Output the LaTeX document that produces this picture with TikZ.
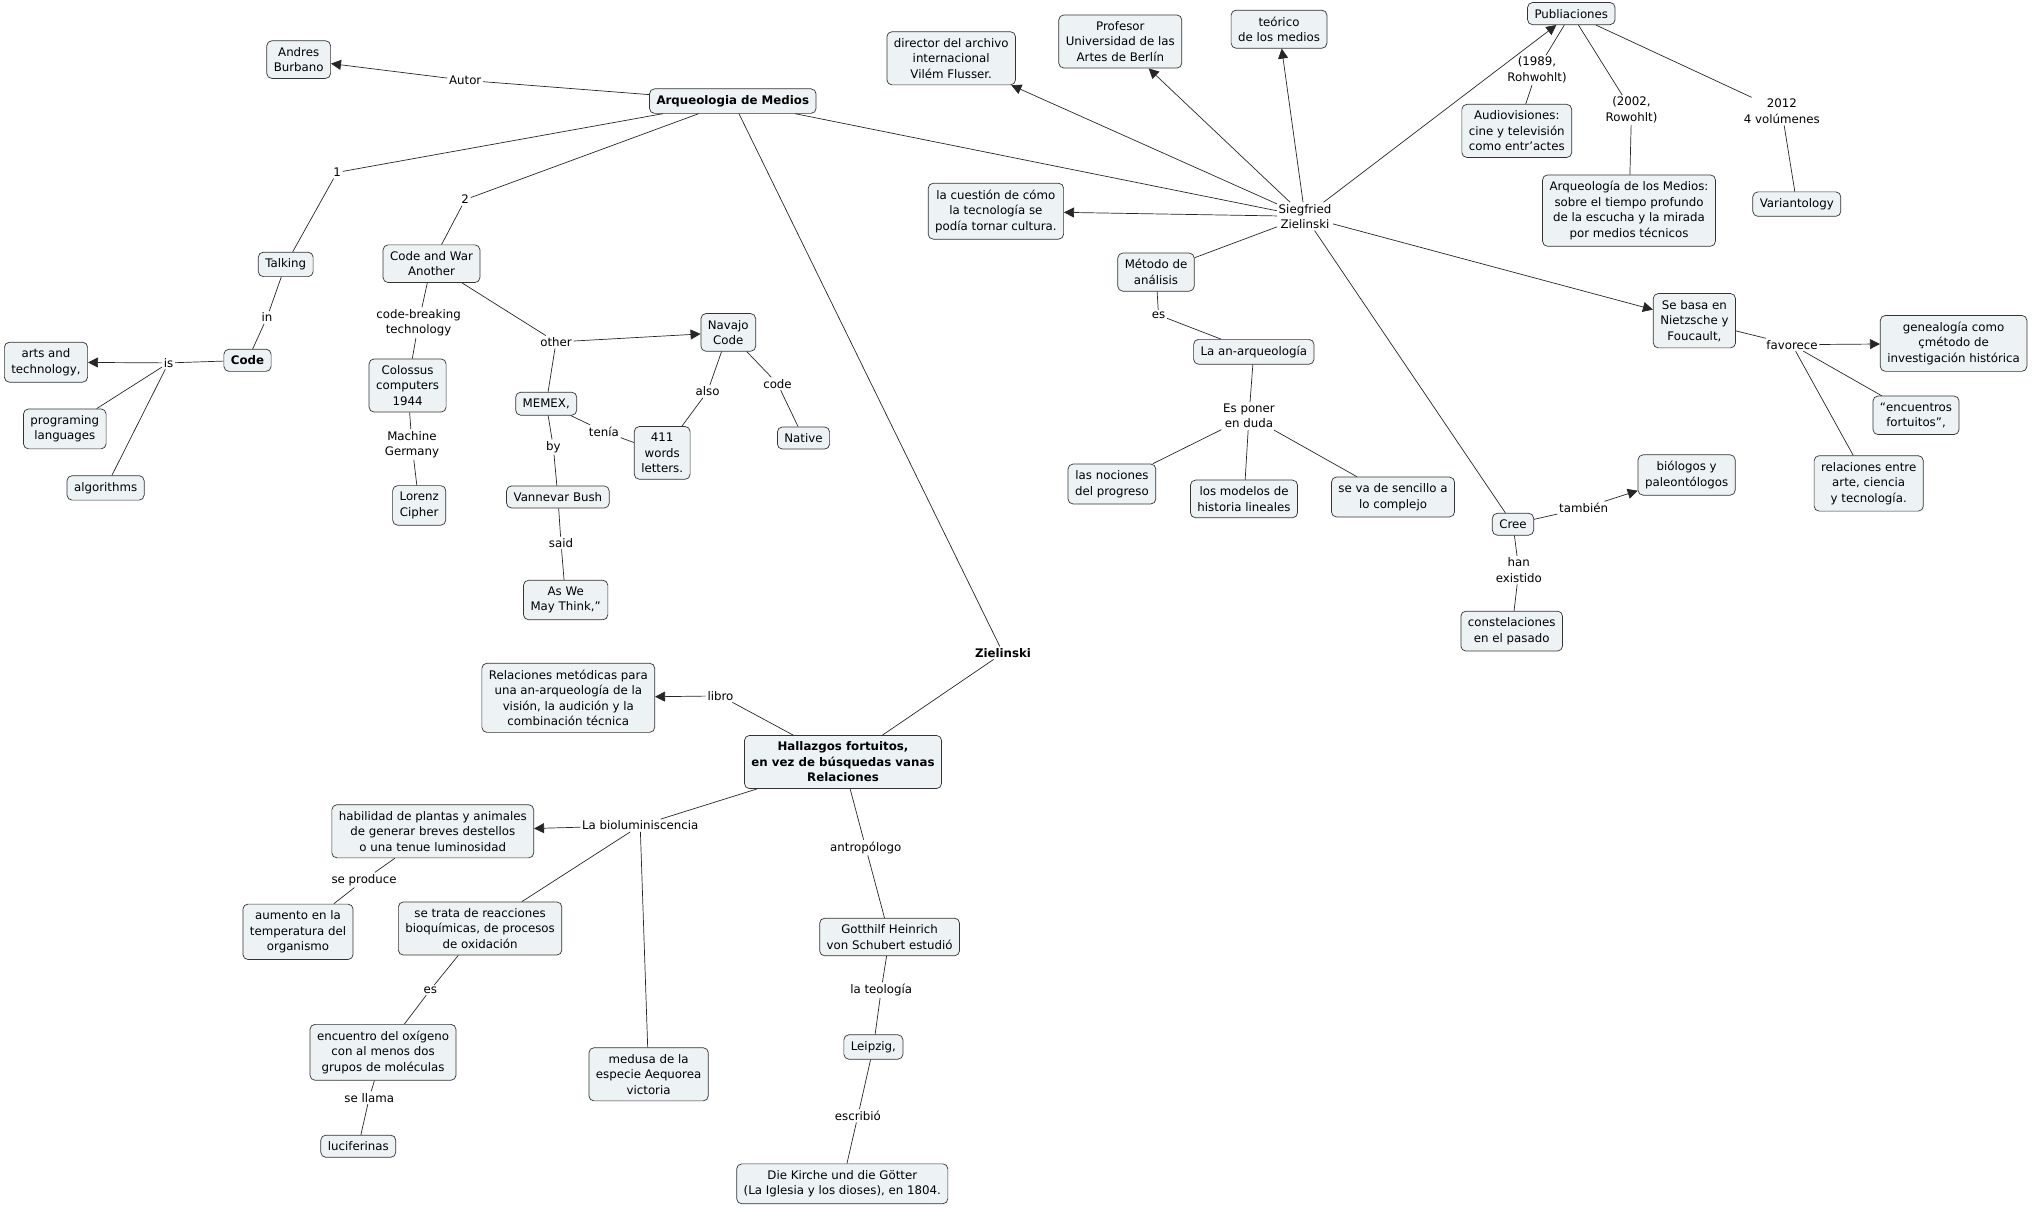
\documentclass[tikz,border=0pt]{standalone}
\usepackage{fontspec}
\setmainfont{DejaVu Sans}
\usetikzlibrary{arrows.meta}
\definecolor{cfill}{RGB}{237,243,245}
\begin{document}
\begin{tikzpicture}[x=1pt, y=-1pt, line width=0.7pt, line join=round,
  concept/.style={draw=black!80, fill=cfill, rounded corners=5, align=center,
    inner xsep=7, inner ysep=6.5, font=\fontsize{11.8}{15.5}\selectfont},
  main/.style={concept, font=\fontsize{11.8}{15.5}\selectfont\bfseries},
  phrase/.style={align=center, inner sep=1.5, font=\fontsize{11.8}{15.5}\selectfont},
  conn/.style={draw=black!85},
  arr/.style={conn, -{Triangle[length=10pt, width=10pt]}}]
  \useasboundingbox (0,0) rectangle (2032,1208);
  % Zentrum
  \node[main] (arq) at (732.8,101.1) {Arqueologia de Medios};
  \node[concept] (andres) at (298.7,59.6) {Andres\\Burbano};
  \node[phrase] (autor) at (465.2,80.3) {Autor};
  \draw[conn] (arq) -- (autor); \draw[arr] (autor) -- (andres);
  % Talking / Code
  \node[phrase] (one) at (337,172.4) {1};
  \node[concept] (talking) at (285.7,264.4) {Talking};
  \node[phrase] (in) at (267,317.5) {in};
  \node[main] (code) at (247.5,360.3) {Code};
  \node[phrase] (is) at (168.5,362.9) {is};
  \node[concept] (arts) at (46,362.2) {arts and\\technology,};
  \node[concept] (prog) at (64.8,428.9) {programing\\languages};
  \node[concept] (algo) at (105.6,487.9) {algorithms};
  \draw[conn] (arq) -- (one) -- (talking) -- (in) -- (code) -- (is);
  \draw[arr] (is) -- (arts);
  \draw[conn] (is) -- (prog); \draw[conn] (is) -- (algo);
  % Code and War
  \node[phrase] (two) at (465.2,199.6) {2};
  \node[concept] (codewar) at (431.5,263.7) {Code and War\\Another};
  \node[phrase] (breaking) at (418.6,322.7) {code-breaking\\technology};
  \node[concept] (colossus) at (407.6,385.5) {Colossus\\computers\\1944};
  \node[phrase] (machine) at (412,444.5) {Machine\\Germany};
  \node[concept] (lorenz) at (419.2,505.4) {Lorenz\\Cipher};
  \node[phrase] (other) at (556,342) {other};
  \node[concept] (navajo) at (728.3,332.4) {Navajo\\Code};
  \node[concept] (memex) at (546.2,403.7) {MEMEX,};
  \node[phrase] (tenia) at (603.9,431.5) {tenía};
  \node[concept] (words) at (662.2,452.9) {411\\words\\letters.};
  \node[phrase] (also) at (707.6,391.4) {also};
  \node[phrase] (codel) at (777.5,383.6) {code};
  \node[concept] (native) at (803.5,438) {Native};
  \node[phrase] (by) at (553.3,447) {by};
  \node[concept] (bush) at (557.9,497) {Vannevar Bush};
  \node[phrase] (said) at (561,543) {said};
  \node[concept] (aswe) at (565.7,600) {As We\\May Think,”};
  \draw[conn] (arq) -- (two) -- (codewar) -- (breaking) -- (colossus) -- (machine) -- (lorenz);
  \draw[conn] (codewar) -- (other); \draw[arr] (other) -- (navajo);
  \draw[conn] (other) -- (memex) -- (tenia) -- (words);
  \draw[conn] (navajo) -- (also) -- (words);
  \draw[conn] (navajo) -- (codel) -- (native);
  \draw[conn] (memex) -- (by) -- (bush) -- (said) -- (aswe);
  % Siegfried Zielinski
  \node[phrase] (siegfried) at (1305,216.4) {Siegfried\\Zielinski};
  \node[concept] (director) at (951.2,58.3) {director del archivo\\internacional\\Vilém Flusser.};
  \node[concept] (profesor) at (1120.3,41.5) {Profesor\\Universidad de las\\Artes de Berlín};
  \node[concept] (teorico) at (1279,29.2) {teórico\\de los medios};
  \node[concept] (cuestion) at (995.9,211.2) {la cuestión de cómo\\la tecnología se\\podía tornar cultura.};
  \draw[conn] (arq) -- (siegfried);
  \draw[arr] (siegfried) -- (director);
  \draw[arr] (siegfried) -- (profesor);
  \draw[arr] (siegfried) -- (teorico);
  \draw[arr] (siegfried) -- (cuestion);
  % Publicaciones
  \node[concept] (publ) at (1571.3,13.6) {Publiaciones};
  \node[phrase] (y1989) at (1537,70) {(1989,\\Rohwohlt)};
  \node[concept] (audio) at (1516.8,130.9) {Audiovisiones:\\cine y televisión\\como entr’actes};
  \node[phrase] (y2002) at (1631.5,110) {(2002,\\Rowohlt)};
  \node[concept] (arqmed) at (1629,210.6) {Arqueología de los Medios:\\sobre el tiempo profundo\\de la escucha y la mirada\\por medios técnicos};
  \node[phrase] (y2012) at (1781.9,111.4) {2012\\4 volúmenes};
  \node[concept] (varia) at (1796.8,204.1) {Variantology};
  \draw[arr] (siegfried) -- (publ);
  \draw[conn] (publ) -- (y1989) -- (audio);
  \draw[conn] (publ) -- (y2002) -- (arqmed);
  \draw[conn] (publ) -- (y2012) -- (varia);
  % Metodo
  \node[concept] (metodo) at (1156,272.1) {Método de\\análisis};
  \node[phrase] (es1) at (1158.5,315) {es};
  \node[concept] (anarq) at (1253.8,351.8) {La an-arqueología};
  \node[phrase] (poner) at (1249,416) {Es poner\\en duda};
  \node[concept] (nociones) at (1111.9,484) {las nociones\\del progreso};
  \node[concept] (modelos) at (1244,498.9) {los modelos de\\historia lineales};
  \node[concept] (sencillo) at (1393,497) {se va de sencillo a\\lo complejo};
  \draw[conn] (siegfried) -- (metodo) -- (es1) -- (anarq) -- (poner);
  \draw[conn] (poner) -- (nociones); \draw[conn] (poner) -- (modelos); \draw[conn] (poner) -- (sencillo);
  % Nietzsche und Foucault
  \node[concept] (basa) at (1694.4,320.7) {Se basa en\\Nietzsche y\\Foucault,};
  \node[phrase] (favorece) at (1792,344.7) {favorece};
  \node[concept] (genea) at (1953.6,343.4) {genealogía como\\çmétodo de\\investigación histórica};
  \node[concept] (encuentros) at (1916,415.3) {“encuentros\\fortuitos”,};
  \node[concept] (relaciones) at (1868.7,483.4) {relaciones entre\\arte, ciencia\\y tecnología.};
  \draw[arr] (siegfried) -- (basa);
  \draw[conn] (basa) -- (favorece); \draw[arr] (favorece) -- (genea);
  \draw[conn] (favorece) -- (encuentros); \draw[conn] (favorece) -- (relaciones);
  % Cree
  \node[concept] (cree) at (1513,524.2) {Cree};
  \node[phrase] (tambien) at (1583.6,508) {también};
  \node[concept] (biologos) at (1686.6,475) {biólogos y\\paleontólogos};
  \node[phrase] (existido) at (1518.8,570.2) {han\\existido};
  \node[concept] (constel) at (1511.7,631.1) {constelaciones\\en el pasado};
  \draw[conn] (siegfried) -- (cree) -- (tambien); \draw[arr] (tambien) -- (biologos);
  \draw[conn] (cree) -- (existido) -- (constel);
  % Hallazgos fortuitos
  \node[phrase, font=\fontsize{11.8}{15.5}\selectfont\bfseries] (ziel) at (1003,653) {Zielinski};
  \node[main] (hallazgos) at (843,762) {Hallazgos fortuitos,\\en vez de búsquedas vanas\\Relaciones};
  \node[phrase] (libro) at (720.5,695.9) {libro};
  \node[concept] (relmet) at (568.3,697.8) {Relaciones metódicas para\\una an-arqueología de la\\visión, la audición y la\\combinación técnica};
  \draw[conn] (arq) -- (ziel) -- (hallazgos) -- (libro); \draw[arr] (libro) -- (relmet);
  % Bioluminiszenz
  \node[phrase] (biolum) at (640.2,825.5) {La bioluminiscencia};
  \node[concept] (habilidad) at (432.8,831.3) {habilidad de plantas y animales\\de generar breves destellos\\o una tenue luminosidad};
  \node[phrase] (produce) at (364.1,880) {se produce};
  \node[concept] (aumento) at (298,931.8) {aumento en la\\temperatura del\\organismo};
  \node[concept] (trata) at (480.1,928.5) {se trata de reacciones\\bioquímicas, de procesos\\de oxidación};
  \node[phrase] (es2) at (430.2,990) {es};
  \node[concept] (oxigeno) at (383,1052.3) {encuentro del oxígeno\\con al menos dos\\grupos de moléculas};
  \node[phrase] (llama) at (369.3,1097.6) {se llama};
  \node[concept] (lucif) at (358.3,1146.2) {luciferinas};
  \node[concept] (medusa) at (648.6,1074.3) {medusa de la\\especie Aequorea\\victoria};
  \draw[conn] (hallazgos) -- (biolum); \draw[arr] (biolum) -- (habilidad);
  \draw[conn] (habilidad) -- (produce) -- (aumento);
  \draw[conn] (biolum) -- (trata) -- (es2) -- (oxigeno) -- (llama) -- (lucif);
  \draw[conn] (biolum) -- (medusa);
  % Schubert
  \node[phrase] (antrop) at (865.7,847.5) {antropólogo};
  \node[concept] (gotthilf) at (889.6,937) {Gotthilf Heinrich\\von Schubert estudió};
  \node[phrase] (teologia) at (881.2,990) {la teología};
  \node[concept] (leipzig) at (873.4,1047) {Leipzig,};
  \node[phrase] (escribio) at (857.9,1115.8) {escribió};
  \node[concept] (kirche) at (842.3,1183.8) {Die Kirche und die Götter\\(La Iglesia y los dioses), en 1804.};
  \draw[conn] (hallazgos) -- (antrop) -- (gotthilf) -- (teologia) -- (leipzig) -- (escribio) -- (kirche);
\end{tikzpicture}
\end{document}
